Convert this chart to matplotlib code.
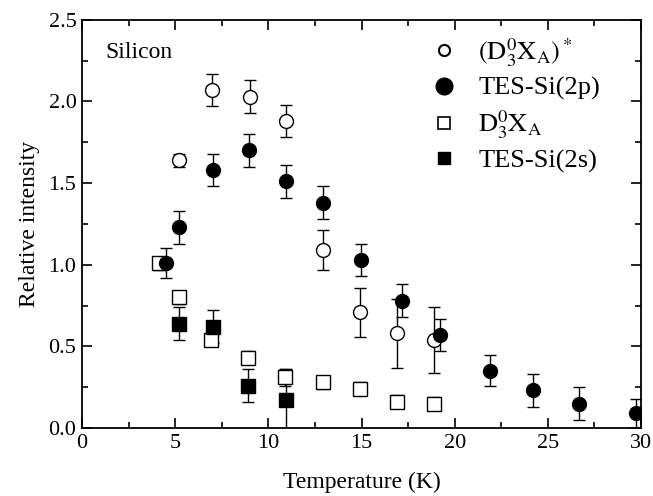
import numpy as np
import matplotlib
matplotlib.use("Agg")
import matplotlib.pyplot as plt
from matplotlib.lines import Line2D

plt.rcParams['font.family'] = ['Liberation Serif', 'DejaVu Serif']
plt.rcParams['mathtext.fontset'] = 'stix'

# (D3X_A)* - open circles
t_oc = [5.2, 7.0, 9.0, 10.95, 12.95, 14.9, 16.9, 18.9]
i_oc = [1.64, 2.07, 2.03, 1.88, 1.09, 0.71, 0.58, 0.54]
e_oc = [0.04, 0.10, 0.10, 0.10, 0.12, 0.15, 0.21, 0.20]

# TES-Si(2p) - filled circles
t_fc = [4.5, 5.2, 7.05, 8.95, 10.95, 12.95, 14.95, 17.2, 19.2, 21.9, 24.2, 26.7, 29.75]
i_fc = [1.01, 1.23, 1.58, 1.70, 1.51, 1.38, 1.03, 0.78, 0.57, 0.35, 0.23, 0.15, 0.09]
e_fc = [0.09, 0.10, 0.10, 0.10, 0.10, 0.10, 0.10, 0.10, 0.10, 0.095, 0.10, 0.10, 0.09]

# D3X_A - open squares
t_os = [4.15, 5.2, 6.9, 8.9, 10.9, 12.95, 14.9, 16.9, 18.9]
i_os = [1.01, 0.80, 0.54, 0.43, 0.31, 0.28, 0.24, 0.16, 0.15]
e_os = [0.04, 0.04, 0.04, 0.04, 0.05, 0.04, 0.04, 0.04, 0.04]

# TES-Si(2s) - filled squares
t_fs = [5.2, 7.05, 8.9, 10.95]
i_fs = [0.64, 0.62, 0.26, 0.17]
e_fs = [0.10, 0.10, 0.10, 0.19]

fig = plt.figure(figsize=(6.53, 4.96), dpi=100)
ax = fig.add_axes([0.1256, 0.137, 0.856, 0.823])

common = dict(ls='none', ecolor='black', elinewidth=1.0, capsize=4, capthick=1.0,
              markersize=10, markeredgewidth=1.0, markeredgecolor='black')
ax.errorbar(t_oc, i_oc, yerr=e_oc, fmt='o', mfc='white', **common)
ax.errorbar(t_os, i_os, yerr=e_os, fmt='s', mfc='white', **common)
ax.errorbar(t_fc, i_fc, yerr=e_fc, fmt='o', mfc='black', **common)
ax.errorbar(t_fs, i_fs, yerr=e_fs, fmt='s', mfc='black', **common)

ax.set_xlim(0, 30)
ax.set_ylim(0, 2.5)
ax.set_xticks(np.arange(0, 31, 5))
ax.set_xticks(np.arange(0, 30.1, 2.5), minor=True)
ax.set_yticks(np.arange(0, 2.51, 0.5))
ax.set_yticks(np.arange(0, 2.51, 0.25), minor=True)
ax.yaxis.set_major_formatter(matplotlib.ticker.FormatStrFormatter('%.1f'))
ax.tick_params(which='both', direction='in', top=True, right=True, labelsize=16, width=1.2)
ax.tick_params(which='major', length=7, pad=4)
ax.tick_params(which='minor', length=4)
for s in ax.spines.values():
    s.set_linewidth(1.3)

ax.set_xlabel('Temperature (K)', fontsize=17, labelpad=14)
ax.set_ylabel('Relative intensity', fontsize=17, labelpad=6)
ax.text(0.042, 0.945, 'Silicon', transform=ax.transAxes, fontsize=17, va='top')

handles = [
    Line2D([], [], ls='none', marker='o', mfc='white', mec='black', ms=8, mew=1.5),
    Line2D([], [], ls='none', marker='o', mfc='black', mec='black', ms=12),
    Line2D([], [], ls='none', marker='s', mfc='white', mec='black', ms=8, mew=1.2),
    Line2D([], [], ls='none', marker='s', mfc='black', mec='black', ms=9),
]
labels = [r'$(\mathrm{D}_3^0\mathrm{X}_\mathrm{A})^*$', 'TES-Si(2p)',
          r'$\mathrm{D}_3^0\mathrm{X}_\mathrm{A}$', 'TES-Si(2s)']
ax.legend(handles, labels, loc='upper right', bbox_to_anchor=(0.955, 1.0), frameon=False,
          fontsize=19, handlelength=1.0, handletextpad=0.8, labelspacing=0.3,
          borderaxespad=0.2)

fig.savefig('out.png', dpi=100)
